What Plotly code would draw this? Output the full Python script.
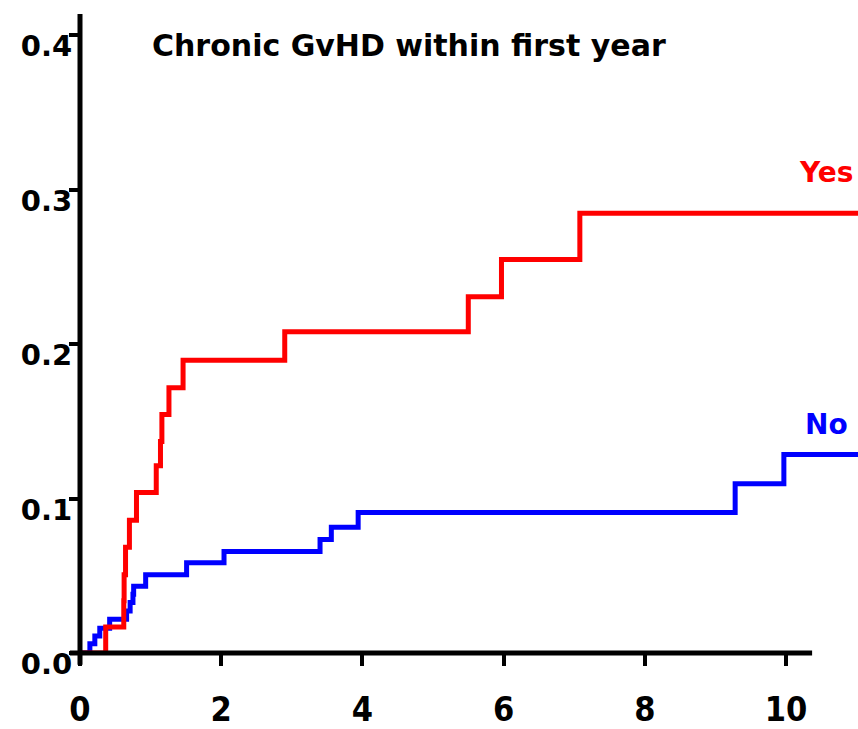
import plotly.graph_objects as go

# Cumulative incidence by chronic GvHD status (step functions)
yes_time = [0, 0.364, 0.62, 0.625, 0.645, 0.70, 0.80, 1.08, 1.14, 1.16, 1.26, 1.46,
            2.90, 5.50, 5.97, 7.08, 11.1]
yes_ci = [0, 0.0169, 0.0338, 0.0507, 0.0685, 0.0860, 0.1040, 0.1212, 0.1370, 0.1545,
          0.1717, 0.1895, 0.2081, 0.2307, 0.2549, 0.2848, 0.2848]

no_time = [0, 0.14, 0.21, 0.28, 0.42, 0.66, 0.71, 0.75, 0.76, 0.93, 1.51, 2.04, 3.40,
           3.56, 3.94, 9.28, 9.97, 11.1]
no_ci = [0, 0.0060, 0.0110, 0.0160, 0.0218, 0.0272, 0.0327, 0.0380, 0.0433, 0.0507,
         0.0584, 0.0657, 0.0735, 0.0815, 0.0910, 0.1096, 0.1286, 0.1286]

x_ticks = [0, 2, 4, 6, 8, 10]
y_ticks = [0.0, 0.1, 0.2, 0.3, 0.4]
y_tick_text = ["0.0", "0.1", "0.2", "0.3", "0.4"]

title_text = "Chronic GvHD within first year"
yes_label = "Yes"
no_label = "No"

# Layout geometry
W, H = 858, 729
M_L, M_R, M_T, M_B = 80, 0, 14, 60
X_MAX = 11.02
Y_MAX = 0.4138
X_AXIS_END = 10.37
AXIS_W = 5
plot_w = W - M_L - M_R
plot_h = H - M_T - M_B

RED = "#ff0000"
BLUE = "#0000ff"

fig = go.Figure()
fig.add_trace(go.Scatter(x=no_time, y=no_ci, mode="lines", line_shape="hv",
                         line=dict(color=BLUE, width=5), showlegend=False))
fig.add_trace(go.Scatter(x=yes_time, y=yes_ci, mode="lines", line_shape="hv",
                         line=dict(color=RED, width=5), showlegend=False))

# Axis lines drawn as shapes so they can overhang the origin
fig.add_shape(type="line", xref="paper", yref="paper",
              x0=-10 / plot_w, x1=X_AXIS_END / X_MAX, y0=0, y1=0,
              line=dict(color="black", width=AXIS_W), layer="above")
fig.add_shape(type="line", xref="paper", yref="paper",
              x0=0, x1=0, y0=-12 / plot_h, y1=1,
              line=dict(color="black", width=AXIS_W), layer="above")

fig.add_annotation(text=title_text, xref="paper", yref="paper",
                   x=(150 - M_L) / plot_w, y=1 - (46 - M_T) / plot_h,
                   xanchor="left", yanchor="middle", showarrow=False,
                   font=dict(family="DejaVu Sans", size=30, color="black", weight="bold"))
fig.add_annotation(text=yes_label, x=10.57, y=yes_ci[-1], xref="x", yref="y",
                   yanchor="bottom", yshift=22, showarrow=False,
                   font=dict(family="DejaVu Sans", size=28, color=RED, weight="bold"))
fig.add_annotation(text=no_label, x=10.57, y=no_ci[-1], xref="x", yref="y",
                   yanchor="bottom", yshift=11, showarrow=False,
                   font=dict(family="DejaVu Sans", size=28, color=BLUE, weight="bold"))

fig.update_layout(
    width=W, height=H,
    margin=dict(l=M_L, r=M_R, t=M_T, b=M_B, pad=0),
    plot_bgcolor="white", paper_bgcolor="white",
    xaxis=dict(range=[0, X_MAX], tickvals=x_ticks, showgrid=False, zeroline=False,
               showline=False, ticks="outside", ticklen=12, tickwidth=4,
               tickcolor="black", ticklabelstandoff=14,
               tickfont=dict(family="Liberation Sans Narrow, DejaVu Sans Condensed, Roboto",
                             size=34, color="black", weight="bold")),
    yaxis=dict(range=[0, Y_MAX], tickvals=y_ticks, ticktext=y_tick_text,
               showgrid=False, zeroline=False, showline=False, ticks="outside",
               ticklen=10, tickwidth=4, tickcolor="black", ticklabelshift=11,
               ticklabelstandoff=-9,
               tickfont=dict(family="DejaVu Sans", size=29, color="black", weight="bold")),
)

fig.write_html("out.html")
